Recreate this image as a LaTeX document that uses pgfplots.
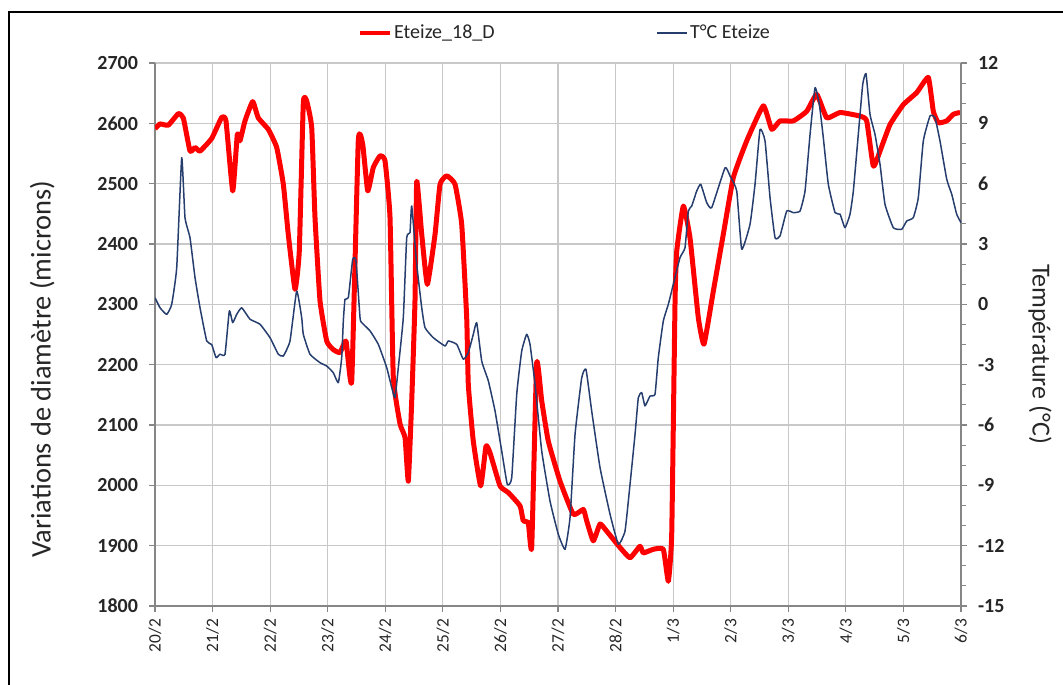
\documentclass[border=0pt]{standalone}
\usepackage{pgfplots}
\pgfplotsset{compat=1.18}
\usepackage{fontspec}
\setmainfont{Carlito}
\definecolor{tempblue}{RGB}{38,62,110}
\definecolor{axgray}{RGB}{134,134,134}
\definecolor{gridgray}{RGB}{200,200,200}
\definecolor{txt}{RGB}{38,38,38}
\begin{document}
\begin{tikzpicture}
\useasboundingbox (0,0) rectangle (531.5pt,-342pt);
\draw[line width=1pt] (4.6pt,-6pt) rectangle (545pt,-360pt);
\begin{axis}[
  at={(77.5pt,-303pt)}, anchor=south west,
  width=403pt, height=271.5pt, scale only axis,
  xmin=0, xmax=14, ymin=1800, ymax=2700,
  axis x line*=bottom, axis y line*=left,
  axis line style={-, axgray, line width=1pt},
  xtick={0,...,14},
  xticklabels={20/2,21/2,22/2,23/2,24/2,25/2,26/2,27/2,28/2,1/3,2/3,3/3,4/3,5/3,6/3},
  ytick={1800,1900,...,2700},
  tick align=outside, major tick length=3pt,
  tick style={axgray, line width=0.6pt},
  grid=major, major grid style={gridgray, line width=0.6pt},
  /pgf/number format/assume math mode=true,
  /pgf/number format/1000 sep={},
  yticklabel style={font=\fontsize{10}{12}\selectfont\bfseries, text=txt, xshift=-2pt},
  xticklabel style={font=\fontsize{8.7}{10}\selectfont, text=txt, rotate=90, anchor=east, yshift=0pt},
  ylabel={Variations de diamètre (microns)},
  ylabel style={font=\fontsize{14.2}{16}\selectfont, text=txt, at={(axis description cs:-0.140,0.436)}, anchor=center, rotate=0},
]
\addplot[red, line width=2.5pt, line join=round, smooth, tension=0.25] coordinates {
(0.000,2591)(0.087,2599)(0.231,2597)(0.405,2616)(0.492,2609)(0.608,2554)(0.695,2560)(0.782,2554)(0.985,2575)(1.159,2610)(1.233,2604)(1.350,2488)(1.430,2582)(1.476,2571)(1.563,2604)(1.697,2636)(1.794,2609)(1.968,2590)(2.114,2560)(2.229,2499)(2.315,2416)(2.432,2325)(2.506,2388)(2.576,2634)(2.635,2637)(2.722,2593)(2.779,2444)(2.866,2306)(2.983,2239)(3.097,2225)(3.213,2220)(3.318,2239)(3.417,2173)(3.531,2571)(3.608,2565)(3.695,2488)(3.792,2527)(3.908,2546)(3.995,2538)(4.082,2444)(4.139,2180)(4.256,2102)(4.343,2079)(4.400,2007)(4.459,2140)(4.516,2306)(4.546,2504)(4.633,2416)(4.730,2333)(4.864,2416)(4.951,2499)(5.067,2513)(5.211,2499)(5.327,2433)(5.414,2278)(5.442,2167)(5.529,2073)(5.657,1999)(5.749,2065)(5.819,2054)(5.993,1999)(6.137,1988)(6.340,1966)(6.397,1941)(6.484,1938)(6.543,1897)(6.630,2203)(6.717,2140)(6.832,2073)(7.035,2007)(7.266,1952)(7.440,1960)(7.499,1941)(7.613,1908)(7.730,1936)(7.846,1924)(8.077,1897)(8.251,1880)(8.424,1899)(8.482,1888)(8.656,1894)(8.829,1894)(8.916,1841)(8.975,1919)(9.033,2306)(9.062,2388)(9.177,2463)(9.293,2410)(9.437,2278)(9.536,2234)(9.698,2322)(9.871,2416)(10.045,2510)(10.278,2571)(10.566,2629)(10.712,2590)(10.856,2604)(11.087,2604)(11.320,2620)(11.494,2648)(11.668,2609)(11.899,2618)(12.246,2612)(12.362,2604)(12.477,2529)(12.593,2554)(12.767,2598)(12.998,2631)(13.231,2651)(13.432,2676)(13.519,2620)(13.606,2601)(13.752,2604)(13.866,2615)(13.983,2618)
};
\end{axis}
\begin{axis}[
  at={(77.5pt,-303pt)}, anchor=south west,
  width=403pt, height=271.5pt, scale only axis,
  xmin=0, xmax=14, ymin=-15, ymax=12,
  axis x line=none, axis y line*=right,
  axis line style={-, axgray, line width=1pt},
  ytick={-15,-12,...,12}, minor ytick={-14,-13,-11,-10,-8,-7,-5,-4,-2,-1,1,2,4,5,7,8,10,11},
  tick align=outside, major tick length=3pt, minor tick length=2.5pt,
  tick style={axgray, line width=0.6pt},
  /pgf/number format/assume math mode=true,
  yticklabel style={font=\fontsize{10}{12}\selectfont\bfseries, text=txt, xshift=2pt},
  ylabel={Température (°C)},
  ylabel style={font=\fontsize{13}{15}\selectfont, text=txt, at={(axis description cs:1.098,0.464)}, anchor=center, rotate=180},
  legend columns=2,
  legend style={draw=none, fill=none, at={(axis description cs:0.5087,1.0552)}, anchor=center,
    font=\fontsize{10}{12}\selectfont, text=txt,
    /tikz/every even column/.append style={column sep=80pt},
    nodes={inner sep=1pt}},
  legend image code/.code={\draw[#1] (0pt,0pt) -- (15pt,0pt);},
]
\addlegendimage{red, line width=2pt}
\addlegendentry{Eteize\_18\_D}
\addplot[tempblue, line width=0.75pt, line join=round, smooth, tension=0.25] coordinates {
(0.000,0.33)(0.087,-0.17)(0.203,-0.5)(0.290,0.0)(0.377,1.82)(0.464,7.29)(0.521,4.31)(0.608,3.31)(0.695,1.33)(0.782,-0.17)(0.898,-1.82)(0.985,-2.0)(1.060,-2.65)(1.129,-2.48)(1.216,-2.48)(1.291,-0.33)(1.350,-0.91)(1.419,-0.5)(1.506,-0.17)(1.650,-0.74)(1.824,-0.99)(1.998,-1.66)(2.142,-2.48)(2.229,-2.57)(2.345,-1.82)(2.461,0.66)(2.548,-0.66)(2.576,-1.49)(2.692,-2.48)(2.866,-2.9)(2.983,-3.07)(3.097,-3.4)(3.184,-3.9)(3.243,-2.65)(3.271,-0.83)(3.300,0.25)(3.358,0.33)(3.434,2.24)(3.491,2.16)(3.561,-0.66)(3.591,-0.91)(3.735,-1.32)(3.879,-1.99)(4.025,-3.15)(4.112,-4.14)(4.169,-4.64)(4.226,-3.15)(4.313,-0.66)(4.372,3.31)(4.429,3.56)(4.459,4.89)(4.546,1.99)(4.633,-0.17)(4.690,-1.16)(4.834,-1.66)(5.037,-2.07)(5.095,-1.82)(5.241,-1.99)(5.355,-2.73)(5.442,-2.4)(5.529,-1.49)(5.588,-0.91)(5.675,-2.82)(5.790,-3.81)(5.906,-5.3)(6.022,-7.29)(6.119,-8.95)(6.196,-8.62)(6.283,-4.47)(6.370,-2.32)(6.456,-1.49)(6.514,-1.99)(6.601,-3.98)(6.717,-7.29)(6.861,-9.78)(7.005,-11.43)(7.122,-12.18)(7.209,-10.6)(7.296,-6.46)(7.412,-3.65)(7.486,-3.23)(7.585,-5.3)(7.730,-8.12)(7.904,-10.44)(8.048,-11.93)(8.164,-11.27)(8.251,-8.95)(8.338,-6.46)(8.395,-4.64)(8.454,-4.39)(8.511,-5.05)(8.598,-4.56)(8.685,-4.47)(8.742,-2.65)(8.829,-0.83)(8.916,0.0)(9.003,1.0)(9.119,2.32)(9.206,2.82)(9.264,4.64)(9.323,4.89)(9.410,5.64)(9.479,5.97)(9.583,5.06)(9.670,4.81)(9.901,6.79)(9.988,6.38)(10.104,5.64)(10.191,2.74)(10.335,3.98)(10.422,5.97)(10.509,8.7)(10.596,8.12)(10.683,5.3)(10.770,3.31)(10.856,3.4)(10.973,4.64)(11.087,4.56)(11.204,4.64)(11.291,5.64)(11.378,8.45)(11.464,10.77)(11.539,9.95)(11.608,8.29)(11.695,5.97)(11.812,4.56)(11.899,4.48)(11.985,3.81)(12.072,4.48)(12.130,5.64)(12.216,8.45)(12.293,10.94)(12.350,11.47)(12.419,9.45)(12.506,8.45)(12.593,6.96)(12.680,4.97)(12.824,3.81)(12.970,3.73)(13.056,4.14)(13.171,4.31)(13.258,5.3)(13.345,8.12)(13.462,9.37)(13.548,9.28)(13.635,8.12)(13.752,6.22)(13.839,5.47)(13.925,4.48)(14.0,4.06)
};
\addlegendentry{T°C Eteize}
\end{axis}
\end{tikzpicture}
\end{document}
